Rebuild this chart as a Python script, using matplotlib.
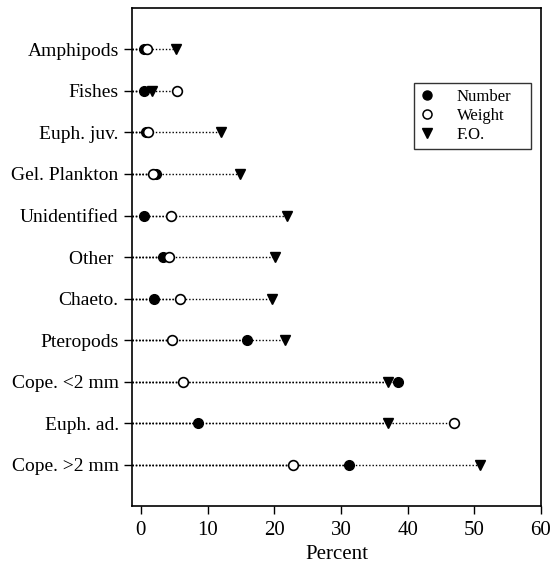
import matplotlib
matplotlib.use("Agg")
import matplotlib.pyplot as plt
from matplotlib.lines import Line2D

plt.rcParams['font.family'] = ['Liberation Serif', 'DejaVu Serif']

# Prey categories, top to bottom
categories = ["Amphipods", "Fishes", "Euph. juv.", "Gel. Plankton", "Unidentified",
              "Other ", "Chaeto.", "Pteropods", "Cope. <2 mm", "Euph. ad.", "Cope. >2 mm"]
number = [0.4, 0.45, 0.8, 2.2, 0.5, 3.25, 1.95, 15.9, 38.5, 8.5, 31.2]
weight = [0.85, 5.4, 1.0, 1.75, 4.5, 4.2, 5.9, 4.7, 6.3, 46.9, 22.8]
freq_occ = [5.3, 1.6, 12.0, 14.8, 21.9, 20.1, 19.6, 21.6, 37.1, 37.1, 50.8]
x_ticks = [0, 10, 20, 30, 40, 50, 60]

fig = plt.figure(figsize=(5.52, 5.68), dpi=100)
ax = fig.add_axes([0.239, 0.109, 0.741, 0.877])

xmin, xmax = -1.35, 60
n = len(categories)
ypos = list(range(n - 1, -1, -1))

# dotted guide from the left edge out to each value
dotted = (0, (1, 1.4))
for series in (number, weight, freq_occ):
    for y, v in zip(ypos, series):
        ax.plot([xmin, v], [y, y], color='black', lw=1.0, linestyle=dotted,
                zorder=1, clip_on=False)

ax.plot(number, ypos, 'o', ms=7, mfc='black', mec='black', ls='none', zorder=3)
ax.plot(weight, ypos, 'o', ms=7, mfc='white', mec='black', mew=1.2, ls='none', zorder=4)
ax.plot(freq_occ, ypos, 'v', ms=7.5, mfc='black', mec='black', ls='none', zorder=5)

ax.set_xlim(xmin, xmax)
ax.set_ylim(-1, n)
ax.set_xticks(x_ticks)
ax.set_yticks(ypos)
ax.set_yticklabels(categories)
ax.tick_params(axis='both', direction='out', length=6, width=1,
               top=False, right=False)
ax.tick_params(axis='y', labelsize=14)
ax.tick_params(axis='x', labelsize=15, pad=5)
for s in ax.spines.values():
    s.set_linewidth(1.2)
ax.set_xlabel("Percent", fontsize=15, labelpad=3)

handles = [
    Line2D([], [], marker='o', ls='none', mfc='black', mec='black', ms=6.5),
    Line2D([], [], marker='o', ls='none', mfc='white', mec='black', ms=6.5, mew=1.1),
    Line2D([], [], marker='v', ls='none', mfc='black', mec='black', ms=7),
]
leg = ax.legend(handles, ["Number", "Weight", "F.O."], loc='upper left',
                bbox_to_anchor=(0.6895, 0.5, 0.286, 0.35), mode='expand',
                borderaxespad=0, fontsize=12,
                frameon=True, fancybox=False, handlelength=0.9, handletextpad=1.33,
                labelspacing=0.2, borderpad=0.35)
leg.get_frame().set_edgecolor('black')
leg.get_frame().set_linewidth(1.0)

fig.savefig("out.png", dpi=100)
